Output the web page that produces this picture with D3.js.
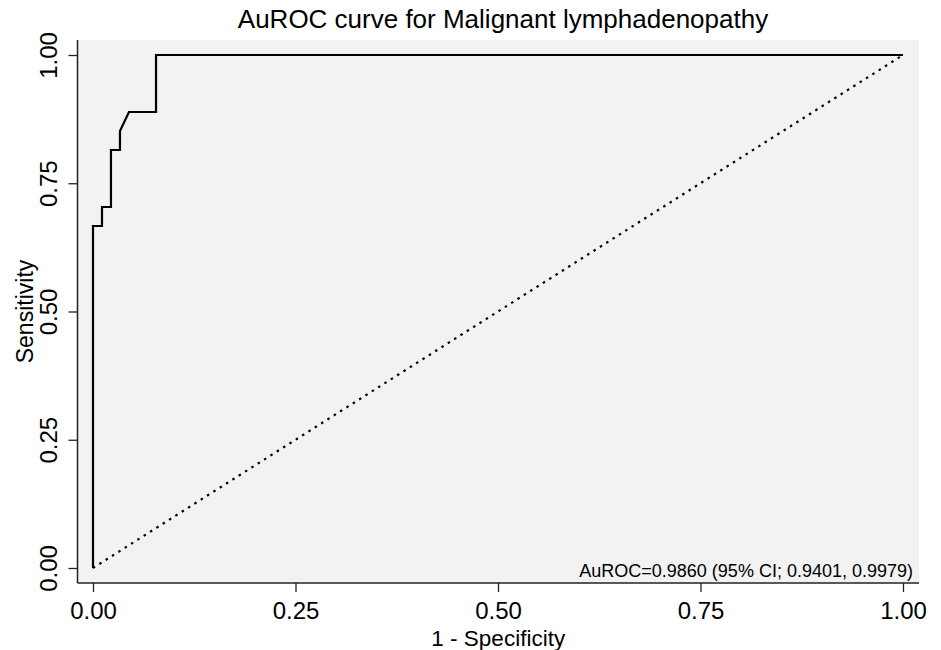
<!DOCTYPE html>
<html>
<head>
<meta charset="utf-8">
<script src="https://cdn.jsdelivr.net/npm/d3@7"></script>
<style>
  body { margin: 0; background: #fff; }
  text { font-family: "Liberation Sans", Arial, Helvetica, sans-serif; fill: #000; }
</style>
</head>
<body>
<div id="chart"></div>
<script>
'use strict'
// ROC points
var fpr = [0, 0, 0.0111, 0.0111, 0.0222, 0.0222, 0.0333, 0.0333, 0.0444, 0.0778, 0.0778, 1]
var sens = [0, 0.6667, 0.6667, 0.7037, 0.7037, 0.8148, 0.8148, 0.8519, 0.8889, 0.8889, 1, 1]
var tickValues = [0, 0.25, 0.5, 0.75, 1]
var titleText = 'AuROC curve for Malignant lymphadenopathy'
var xLabel = '1 - Specificity'
var yLabel = 'Sensitivity'
var note = 'AuROC=0.9860 (95% CI; 0.9401, 0.9979)'

var W = 941, H = 650
// plot region
var box = {left: 77.5, top: 40, right: 919, bottom: 583}

var svg = d3.select('#chart').append('svg')
  .attr('width', W)
  .attr('height', H)

var x = d3.scaleLinear().domain([0, 1]).range([93, 903])
var y = d3.scaleLinear().domain([0, 1]).range([568, 55])

svg.append('rect')
  .attr('x', box.left)
  .attr('y', box.top)
  .attr('width', box.right - box.left)
  .attr('height', box.bottom - box.top)
  .attr('fill', '#f2f2f2')

// axes
var xAxis = svg.append('g')
  .attr('transform', `translate(0,${box.bottom})`)
  .call(d3.axisBottom(x).tickValues(tickValues).tickFormat(d3.format('.2f')).tickSize(9).tickPadding(4))
var yAxis = svg.append('g')
  .attr('transform', `translate(${box.left},0)`)
  .call(d3.axisLeft(y).tickValues(tickValues).tickFormat(d3.format('.2f')).tickSize(9).tickPadding(4))

;[xAxis, yAxis].forEach(g => {
  g.select('.domain').remove()
  g.selectAll('.tick line').attr('stroke', '#222').attr('stroke-width', 1.3)
  g.selectAll('.tick text').style('font-size', '24px').attr('fill', '#000')
})
xAxis.selectAll('.tick text').attr('y', 0).attr('dy', null).attr('transform', 'translate(0,36)')
yAxis.selectAll('.tick text')
  .attr('x', null).attr('dy', null)
  .attr('text-anchor', 'middle')
  .attr('transform', 'translate(-20.5,0) rotate(-90)')

// axis lines
svg.append('line')
  .attr('x1', box.left).attr('x2', box.left)
  .attr('y1', box.top).attr('y2', box.bottom)
  .attr('stroke', '#222').attr('stroke-width', 1.5)
svg.append('line')
  .attr('x1', box.left).attr('x2', box.right)
  .attr('y1', box.bottom).attr('y2', box.bottom)
  .attr('stroke', '#222').attr('stroke-width', 1.5)

// reference diagonal
svg.append('line')
  .attr('x1', x(0)).attr('y1', y(0))
  .attr('x2', x(1)).attr('y2', y(1))
  .attr('stroke', '#000')
  .attr('stroke-width', 2.2)
  .attr('stroke-dasharray', '2.5,5')

// roc curve
var line = d3.line()
  .x(d => x(d[0]))
  .y(d => y(d[1]))
svg.append('path')
  .attr('d', line(d3.zip(fpr, sens)))
  .attr('fill', 'none')
  .attr('stroke', '#000')
  .attr('stroke-width', 2.2)

// texts
svg.append('text')
  .attr('x', 503).attr('y', 28)
  .attr('text-anchor', 'middle')
  .style('font-size', '26px')
  .text(titleText)
svg.append('text')
  .attr('x', (box.left + box.right) / 2).attr('y', 646)
  .attr('text-anchor', 'middle')
  .style('font-size', '22.5px')
  .text(xLabel)
svg.append('text')
  .attr('transform', `translate(33,${(box.top + box.bottom) / 2}) rotate(-90)`)
  .attr('text-anchor', 'middle')
  .style('font-size', '23px')
  .text(yLabel)
svg.append('text')
  .attr('x', 913).attr('y', 577)
  .attr('text-anchor', 'end')
  .style('font-size', '18px')
  .text(note)
</script>
</body>
</html>
